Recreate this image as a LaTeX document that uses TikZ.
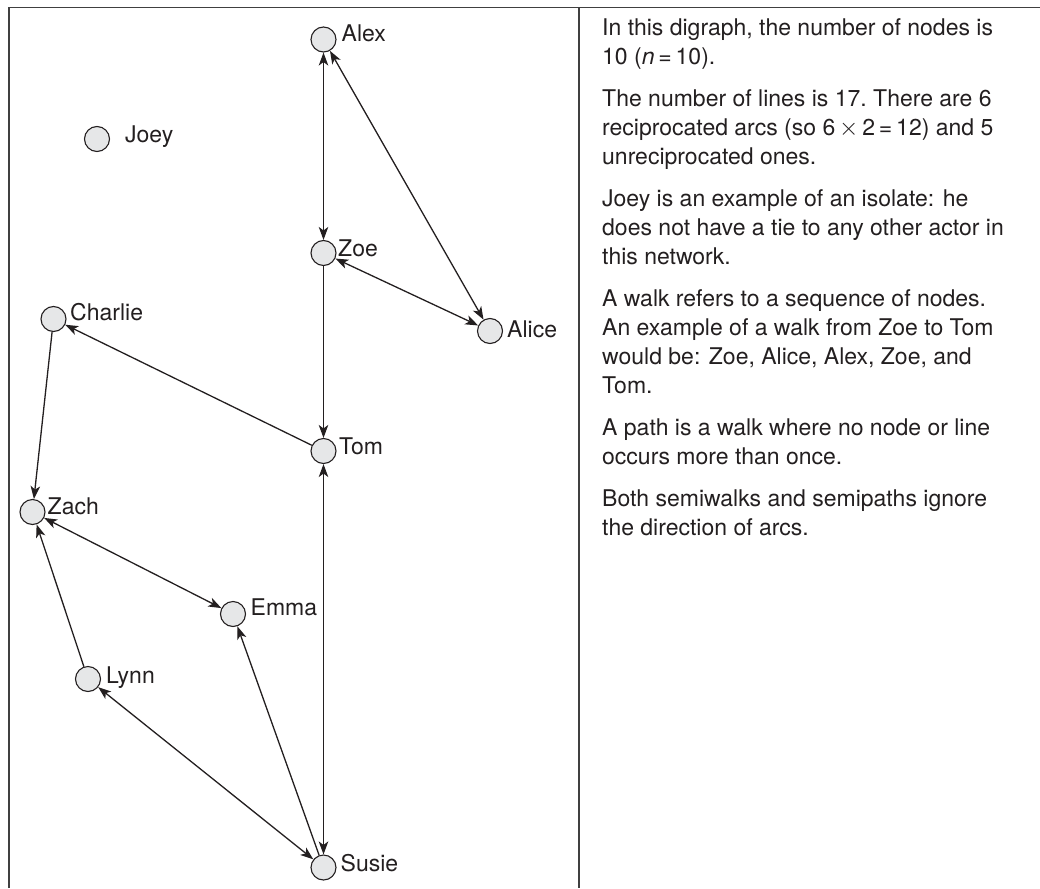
\documentclass[tikz,border=0pt]{standalone}
\usepackage{fontspec}
\setmainfont{TeX Gyre Heros}
\usetikzlibrary{arrows.meta}
\definecolor{nodefill}{HTML}{E6E7E8}
\definecolor{ink}{HTML}{231F20}
\definecolor{framecol}{HTML}{404040}
\begin{document}
\begin{tikzpicture}[x=1pt,y=-1pt,
  actor/.style={circle,draw=ink,fill=nodefill,line width=1.1pt,minimum size=25pt,inner sep=0pt},
  lab/.style={anchor=base west,inner sep=0pt,font=\fontsize{23}{27}\selectfont,text=ink},
  tip/.tip={Stealth[length=13pt,width=9.5pt,inset=3.5pt]},
  arc/.style={draw=ink,line width=1.3pt,-tip},
  recip/.style={draw=ink,line width=1.3pt,tip-tip},
  frameline/.style={draw=framecol,line width=1.6pt},
  para/.style={anchor=north west,inner sep=0pt,align=left,text=ink,font=\fontsize{23}{29}\selectfont}]
\useasboundingbox (0,0) rectangle (1040,888);
% frame
\coordinate (ftl) at (9,7.5);
\coordinate (fbl) at (9,888);
\coordinate (ftr) at (1040,7.5);
\coordinate (dtop) at (579,7.5);
\coordinate (dbot) at (579,888);
\draw[frameline] (fbl) -- (ftl) -- (ftr);
\draw[frameline] (dtop) -- (dbot);
% actors
\node[actor] (alex) at (323.5,39.5) {};
\node[actor] (zoe) at (323.5,253) {};
\node[actor] (alice) at (490,331) {};
\node[actor] (charlie) at (53.5,319) {};
\node[actor] (tom) at (323.5,451) {};
\node[actor] (zach) at (32.5,512) {};
\node[actor] (emma) at (233,614) {};
\node[actor] (lynn) at (88,679) {};
\node[actor] (susie) at (323.5,867.5) {};
\node[actor] (joey) at (97,139) {};
% labels
\node[lab] (alexl) at (341.5,42) {Alex};
\node[lab] (zoel) at (338,256) {Zoe};
\node[lab] (alicel) at (507,337) {Alice};
\node[lab] (charliel) at (70,320) {Charlie};
\node[lab] (toml) at (339,454) {Tom};
\node[lab] (zachl) at (47.5,514) {Zach};
\node[lab] (emmal) at (250.5,615) {Emma};
\node[lab] (lynnl) at (106,683) {Lynn};
\node[lab] (susiel) at (340.5,871) {Susie};
\node[lab] (joeyl) at (125,142) {Joey};
% arcs
\draw[recip] (alex) -- (zoe);
\draw[recip] (alex) -- (alice);
\draw[recip] (zoe) -- (alice);
\draw[arc] (zoe) -- (tom);
\draw[arc] (tom) -- (charlie);
\draw[arc] (charlie) -- (zach);
\draw[recip] (zach) -- (emma);
\draw[arc] (lynn) -- (zach);
\draw[recip] (susie) -- (lynn);
\draw[arc] (susie) -- (emma);
\draw[recip] (susie) -- (tom);
% text
\node[para] (txt) at (602,18.5) {In this digraph, the number of nodes is\\
10 (\textit{n}\,=\,10).\\[13pt]
The number of lines is 17.\ There are 6\\
reciprocated arcs (so 6\,$\times$\,2\,=\,12) and 5\\
unreciprocated ones.\\[13pt]
Joey is an example of an isolate: he\\
does not have a tie to any other actor in\\
this network.\\[13pt]
A walk refers to a sequence of nodes.\\
An example of a walk from Zoe to Tom\\
would be: Zoe, Alice, Alex, Zoe, and\\
Tom.\\[13pt]
A path is a walk where no node or line\\
occurs more than once.\\[13pt]
Both semiwalks and semipaths ignore\\
the direction of arcs.};
\end{tikzpicture}
\end{document}
